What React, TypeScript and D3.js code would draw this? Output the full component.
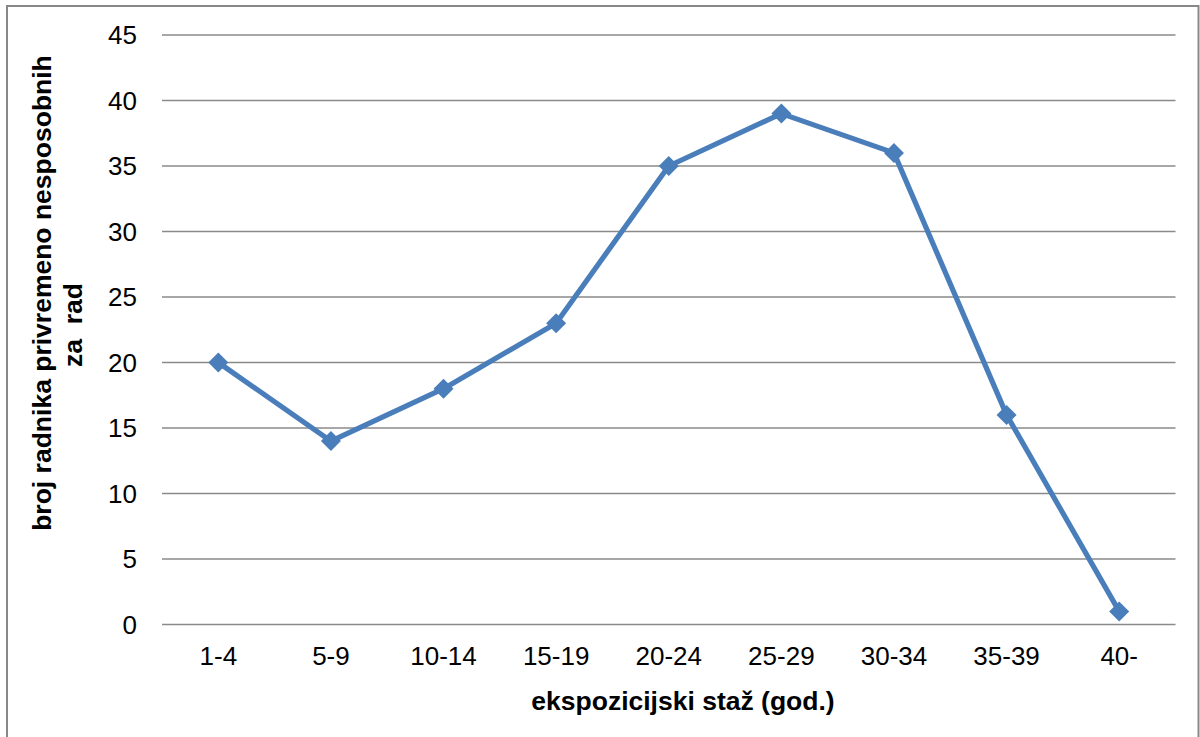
import React, { useEffect, useRef } from "react";
import * as d3 from "d3";

const categories = ["1-4", "5-9", "10-14", "15-19", "20-24", "25-29", "30-34", "35-39", "40-"];
const values = [20, 14, 18, 23, 35, 39, 36, 16, 1];
const yTicks = [0, 5, 10, 15, 20, 25, 30, 35, 40, 45];
const yTitleLines = ["broj radnika privremeno nesposobnih", "za  rad"];
const xTitle = "ekspozicijski staž (god.)";

const W = 1200;
const H = 737;
const FONT = "'Liberation Sans', Arial, Helvetica, sans-serif";

export default function App() {
  const ref = useRef<SVGSVGElement | null>(null);

  useEffect(() => {
    const svg = d3.select(ref.current);
    svg.selectAll("*").remove();

    const left = 162, right = 1175.5, top = 35, bottom = 624.5;
    const x = d3.scaleBand<string>().domain(categories).range([left, right]).padding(0);
    const y = d3.scaleLinear().domain([0, 45]).range([bottom, top]);
    const cx = (c: string) => (x(c) as number) + x.bandwidth() / 2;

    // outer border
    svg.append("rect")
      .attr("x", 7).attr("y", 6).attr("width", 1191.5).attr("height", 745)
      .attr("fill", "#fff").attr("stroke", "#888").attr("stroke-width", 2);

    // gridlines
    svg.append("g").selectAll("line").data(yTicks).join("line")
      .attr("x1", left).attr("x2", right)
      .attr("y1", d => y(d)).attr("y2", d => y(d))
      .attr("stroke", "#8a8a8a").attr("stroke-width", 1.6);

    // y tick labels
    svg.append("g").selectAll("text").data(yTicks).join("text")
      .attr("x", 137).attr("y", d => y(d))
      .attr("dy", "0.36em")
      .attr("text-anchor", "end")
      .attr("font-family", FONT).attr("font-size", 26).attr("fill", "#000")
      .text(d => String(d));

    // x tick labels
    svg.append("g").selectAll("text").data(categories).join("text")
      .attr("x", d => cx(d)).attr("y", 665)
      .attr("text-anchor", "middle")
      .attr("font-family", FONT).attr("font-size", 26).attr("fill", "#000")
      .text(d => d);

    // line
    const line = d3.line<number>()
      .x((_, i) => cx(categories[i]))
      .y(d => y(d));
    svg.append("path")
      .datum(values)
      .attr("d", line)
      .attr("fill", "none")
      .attr("stroke", "#4a7ebb")
      .attr("stroke-width", 5.2)
      .attr("stroke-linejoin", "round");

    // markers
    const r = 10;
    svg.append("g").selectAll("path").data(values).join("path")
      .attr("transform", (d, i) => `translate(${cx(categories[i])},${y(d)})`)
      .attr("d", `M0,${-r}L${r},0L0,${r}L${-r},0Z`)
      .attr("fill", "#4a7ebb");

    // x title
    svg.append("text")
      .attr("x", 683).attr("y", 710)
      .attr("text-anchor", "middle")
      .attr("font-family", FONT).attr("font-size", 26.5).attr("font-weight", "bold")
      .attr("fill", "#000")
      .text(xTitle);

    // y title
    const yt = svg.append("g");
    yt.append("text")
      .attr("transform", "translate(51,293) rotate(-90)")
      .attr("text-anchor", "middle")
      .attr("font-family", FONT).attr("font-size", 26.5).attr("font-weight", "bold")
      .attr("fill", "#000")
      .text(yTitleLines[0]);
    yt.append("text")
      .attr("transform", "translate(82,325) rotate(-90)")
      .attr("text-anchor", "middle")
      .attr("font-family", FONT).attr("font-size", 26.5).attr("font-weight", "bold")
      .attr("fill", "#000")
      .attr("xml:space", "preserve")
      .style("white-space", "pre")
      .text(yTitleLines[1]);
  }, []);

  return (
    <svg
      ref={ref}
      width={W}
      height={H}
      style={{ position: "absolute", left: 0, top: 0, display: "block", background: "#fff" }}
    />
  );
}
